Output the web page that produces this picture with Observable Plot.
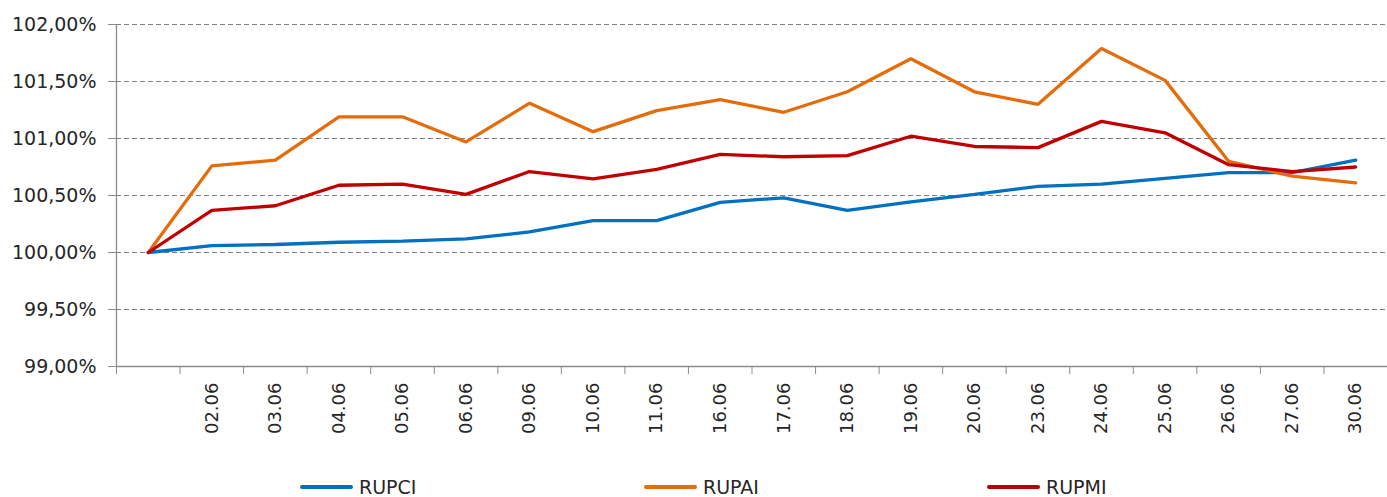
<!DOCTYPE html>
<html>
<head>
<meta charset="utf-8">
<script src="https://cdn.jsdelivr.net/npm/d3@7"></script>
<script src="https://cdn.jsdelivr.net/npm/@observablehq/plot@0.6"></script>
<style>
  html, body { margin: 0; padding: 0; background: #fff; }
  #wrap { position: relative; width: 1387px; height: 497px; overflow: hidden; font-family: "DejaVu Sans", Verdana, sans-serif; }
  .leg { position: absolute; top: 477px; height: 20px; line-height: 20px; display: flex; align-items: center; font-size: 19px; color: #262626; }
  .leg span.sw { display: inline-block; width: 53px; height: 4px; border-radius: 2px; margin-right: 6px; }
</style>
</head>
<body>
<div id="wrap"></div>
<script>
const categories = ["", "02.06", "03.06", "04.06", "05.06", "06.06", "09.06", "10.06", "11.06", "16.06", "17.06", "18.06", "19.06", "20.06", "23.06", "24.06", "25.06", "26.06", "27.06", "30.06"];
const seriesNames = ["RUPCI", "RUPAI", "RUPMI"];
const seriesColors = ["#0070C0", "#E46C0A", "#C00000"];
const rupci = [100.00, 100.06, 100.07, 100.09, 100.10, 100.12, 100.18, 100.28, 100.28, 100.44, 100.48, 100.37, 100.445, 100.51, 100.58, 100.60, 100.65, 100.70, 100.70, 100.81];
const rupai = [100.00, 100.76, 100.81, 101.19, 101.19, 100.97, 101.31, 101.06, 101.245, 101.34, 101.23, 101.41, 101.70, 101.41, 101.30, 101.79, 101.51, 100.80, 100.67, 100.61];
const rupmi = [100.00, 100.37, 100.41, 100.59, 100.60, 100.51, 100.71, 100.645, 100.73, 100.86, 100.84, 100.85, 101.02, 100.93, 100.92, 101.15, 101.05, 100.77, 100.71, 100.75];
const yTicks = [99, 99.5, 100, 100.5, 101, 101.5, 102];

const seriesValues = [rupci, rupai, rupmi];
const data = [];
seriesValues.forEach((vals, s) => vals.forEach((v, i) => data.push({series: seriesNames[s], i, v})));

const axisGray = "#8c8c8c";
const textColor = "#262626";

const chart = Plot.plot({
  width: 1387,
  height: 470,
  marginLeft: 116,
  marginRight: 0,
  marginTop: 24,
  marginBottom: 104,
  style: { fontFamily: "DejaVu Sans, Verdana, sans-serif", background: "#fff", overflow: "visible" },
  x: { type: "linear", domain: [-0.5, categories.length - 0.5] },
  y: { domain: [99, 102] },
  color: { domain: seriesNames, range: seriesColors },
  marks: [
    Plot.gridY(yTicks, { stroke: "#7f7f7f", strokeOpacity: 1, strokeWidth: 1, strokeDasharray: "5,3" }),
    Plot.axisY(yTicks, {
      tickSize: 8, tickPadding: 12, stroke: axisGray, fill: textColor, fontSize: 19,
      tickFormat: d => d.toFixed(2).replace(".", ",") + "%", label: null
    }),
    Plot.ruleX([-0.5], { stroke: axisGray, strokeWidth: 1.3 }),
    Plot.ruleY([99], { stroke: axisGray, strokeWidth: 1.3 }),
    Plot.axisX(d3.range(-0.5, categories.length, 1), {
      tickSize: 8, stroke: axisGray, tickFormat: () => "", label: null
    }),
    Plot.axisX(d3.range(1, categories.length), {
      tickSize: 0, tickPadding: 16, tickRotate: -90, fill: textColor, fontSize: 18,
      tickFormat: i => categories[i], label: null
    }),
    Plot.line(data, { x: "i", y: "v", stroke: "series", strokeWidth: 3.3, strokeLinejoin: "miter" })
  ]
});

const wrap = document.getElementById("wrap");
wrap.appendChild(chart);

const legendLeft = [300, 644, 987];
seriesNames.forEach((name, k) => {
  const item = document.createElement("div");
  item.className = "leg";
  item.style.left = legendLeft[k] + "px";
  item.innerHTML = `<span class="sw" style="background:${seriesColors[k]}"></span><span>${name}</span>`;
  wrap.appendChild(item);
});
</script>
</body>
</html>
